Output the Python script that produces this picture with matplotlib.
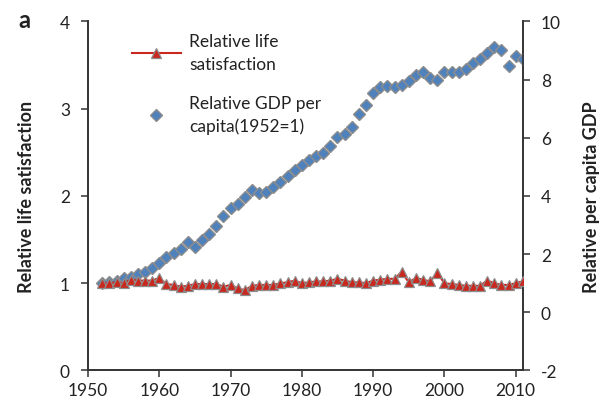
import matplotlib.pyplot as plt
import numpy as np

plt.rcParams['font.family'] = ['Lato', 'DejaVu Sans']
plt.rcParams['axes.unicode_minus'] = False

# Data
years = list(range(1952, 2012))

life_satisfaction = [
    1.00, 1.00, 1.01, 1.00, 1.04, 1.03, 1.03, 1.03, 1.06,          # 1952-1960
    0.99, 0.98, 0.96, 0.97, 0.99, 0.99, 0.99, 0.99, 0.96, 0.98,    # 1961-1970
    0.94, 0.92, 0.97, 0.98, 0.98, 0.98, 1.00, 1.01, 1.03, 1.00,    # 1971-1980
    1.01, 1.02, 1.02, 1.03, 1.05, 1.03, 1.01, 1.01, 1.00, 1.03,    # 1981-1990
    1.04, 1.05, 1.05, 1.13, 1.01, 1.06, 1.04, 1.02, 1.12, 1.00,    # 1991-2000
    0.99, 0.98, 0.97, 0.97, 0.97, 1.03, 1.00, 0.98, 0.98, 1.00,    # 2001-2010
    1.02,                                                          # 2011
]

gdp_per_capita = [
    1.00, 1.04, 1.08, 1.17, 1.23, 1.32, 1.40, 1.51, 1.69,          # 1952-1960
    1.89, 2.03, 2.17, 2.43, 2.26, 2.48, 2.68, 2.97, 3.31, 3.59,    # 1961-1970
    3.72, 3.95, 4.22, 4.10, 4.14, 4.31, 4.48, 4.70, 4.90, 5.07,    # 1971-1980
    5.22, 5.36, 5.47, 5.70, 6.02, 6.14, 6.36, 6.80, 7.14, 7.53,    # 1981-1990
    7.73, 7.79, 7.73, 7.82, 7.96, 8.16, 8.25, 8.04, 8.00, 8.25,    # 1991-2000
    8.25, 8.25, 8.36, 8.56, 8.71, 8.90, 9.13, 9.02, 8.45, 8.80,    # 2001-2010
    8.71,                                                          # 2011
]

x_ticks = [1950, 1960, 1970, 1980, 1990, 2000, 2010]

red = '#C8281E'
blue = '#4F81BD'
edge = '#8C8C8C'

fig = plt.figure(figsize=(6.03, 4.06), dpi=100)
ax = fig.add_axes([0.146, 0.085, 0.721, 0.86])
ax2 = ax.twinx()

# life satisfaction on left axis
ax.plot(years, life_satisfaction, color=red, lw=1.5, marker='^', ms=6.5,
        mfc=red, mec=edge, mew=0.9, zorder=3,
        label='Relative life\nsatisfaction')

# GDP on right axis
ax2.plot(years, gdp_per_capita, ls='none', marker='D', ms=6,
         mfc=blue, mec=edge, mew=1.0, zorder=3,
         label='Relative GDP per\ncapita(1952=1)')

ax.set_zorder(ax2.get_zorder() + 1)
ax.patch.set_visible(False)

ax.set_xlim(1950, 2011)
ax.set_ylim(0, 4)
ax2.set_ylim(-2, 10)
ax.set_xticks(x_ticks)
ax.set_yticks([0, 1, 2, 3, 4])
ax2.set_yticks([-2, 0, 2, 4, 6, 8, 10])

for a in (ax, ax2):
    a.spines['top'].set_visible(False)
    for s in ('left', 'right', 'bottom'):
        a.spines[s].set_linewidth(1.2)
        a.spines[s].set_color('#333333')
    a.tick_params(direction='out', length=5, width=1.1, color='#333333',
                  labelsize=12.5, labelcolor='#222222')
ax.tick_params(axis='y', pad=8)
ax2.tick_params(axis='y', pad=8)

ax.set_ylabel('Relative life satisfaction', fontsize=13, fontweight='bold',
              color='#222222', labelpad=18)
ax2.set_ylabel('Relative per capita GDP', fontsize=13, fontweight='bold',
               color='#222222', labelpad=16)

fig.text(0.03, 0.93, 'a', fontsize=17, fontweight='bold', color='#222222')

h1, l1 = ax.get_legend_handles_labels()
h2, l2 = ax2.get_legend_handles_labels()
leg = ax.legend(h1 + h2, l1 + l2, loc='upper left', bbox_to_anchor=(0.065, 1.01),
                frameon=False, fontsize=12.5, handlelength=2.8,
                labelspacing=1.3, handletextpad=0.5)
for t in leg.get_texts():
    t.set_linespacing(1.5)
    t.set_color('#222222')

fig.savefig('out.png', dpi=100)
